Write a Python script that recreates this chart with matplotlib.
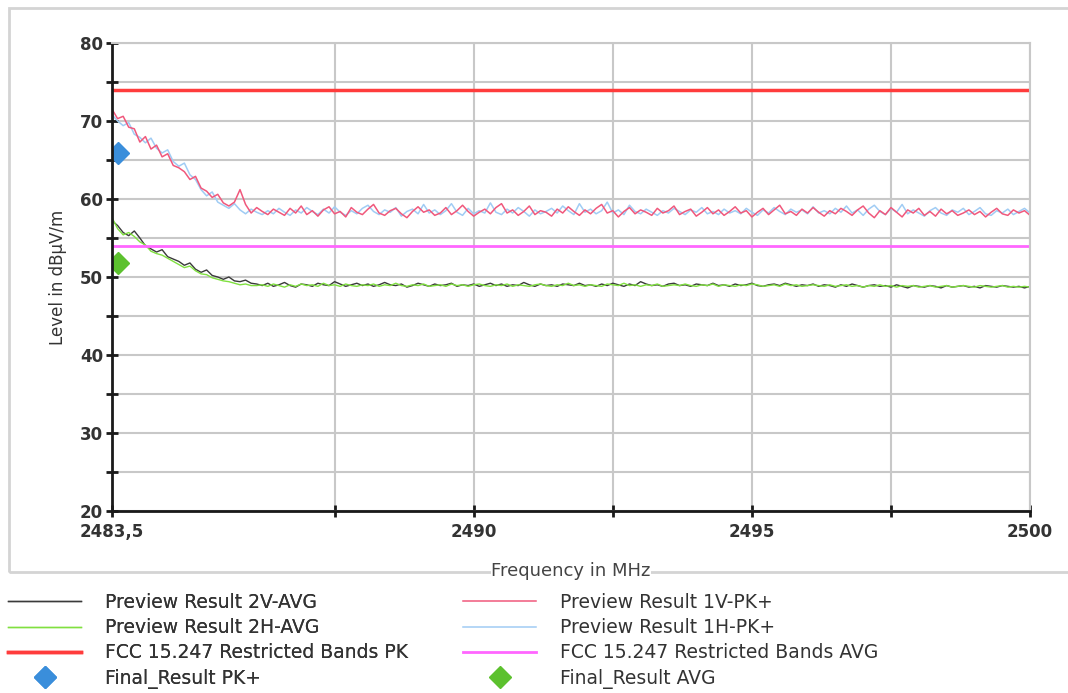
import numpy as np
import matplotlib.pyplot as plt
from matplotlib.patches import Rectangle

plt.rcParams['font.family'] = ['DejaVu Sans']

# Sweep range (MHz)
f_start = 2483.5
f_stop = 2500.0

# Preview Result 1V-PK+ (dBuV/m)
pk_1v = [
    71.5, 70.3, 70.6, 69.2, 69.0, 67.3, 68.0, 66.4, 66.9, 65.4, 65.8, 64.3, 64.0, 63.5,
    62.5, 62.9, 61.4, 61.0, 60.2, 60.6, 59.5, 59.1, 59.6, 61.2, 59.3, 58.2, 58.9, 58.4,
    58.0, 58.7, 58.3, 57.9, 58.8, 58.2, 59.1, 58.0, 58.5, 57.8, 58.6, 59.0, 58.1, 58.4, 57.7, 58.9, 58.3, 58.0, 58.7, 59.3,
    58.2, 57.9, 58.5, 58.8, 58.1, 57.6, 58.4, 59.0, 58.3, 58.6, 57.9, 58.2, 58.9, 58.0, 58.5, 59.2, 58.4, 57.8, 58.3, 58.7,
    58.1, 58.9, 59.4, 58.2, 58.6, 57.9, 58.4, 59.1, 58.0, 58.5, 58.3, 57.8, 58.7, 58.2, 59.0, 58.4, 57.9, 58.6, 58.1, 58.8,
    59.3, 58.2, 58.5, 57.7, 58.4, 58.9, 58.1, 58.6, 58.3, 57.9, 58.8, 58.2, 58.5, 59.1, 58.0, 58.4, 58.7, 57.8, 58.3, 58.9,
    58.1, 58.6, 57.9, 58.4, 59.0, 58.2, 58.5, 57.7, 58.3, 58.8, 58.0, 58.6, 59.2, 58.1, 58.4, 57.9, 58.7, 58.2, 58.9, 58.3,
    57.8, 58.5, 58.1, 58.8, 58.4, 57.9, 58.6, 59.1, 58.2, 57.6, 58.5, 58.0, 58.9, 58.3, 57.7, 58.6, 58.2, 58.8, 57.9, 58.4,
    57.8, 58.7, 58.1, 58.5, 57.9, 58.2, 58.6, 58.0, 58.4, 57.7, 58.3, 58.8, 58.1, 57.9, 58.6, 58.2, 58.5, 57.9,
]

# Preview Result 1H-PK+ (dBuV/m)
pk_1h = [
    70.8, 70.0, 69.4, 69.8, 68.3, 67.9, 67.2, 67.8, 66.5, 65.9, 66.3, 64.8, 64.2, 64.6,
    63.1, 62.5, 61.2, 60.4, 60.9, 59.6, 59.2, 58.8, 59.4, 58.6, 58.1, 58.7, 58.3, 58.0,
    58.5, 58.1, 58.8, 58.3, 57.9, 58.6, 58.2, 58.9, 58.4, 58.0, 58.7, 58.2, 59.0, 58.3, 57.9, 58.5, 58.1, 58.8, 59.2, 58.4,
    58.0, 58.6, 58.3, 58.9, 57.8, 58.4, 58.7, 58.1, 59.3, 58.2, 58.6, 58.0, 58.5, 59.4, 58.3, 57.9, 58.8, 58.1, 58.5, 58.2,
    59.5, 58.3, 58.0, 58.7, 58.2, 58.9, 58.4, 57.8, 58.6, 58.1, 58.4, 58.8, 58.2, 59.1, 58.5, 58.0, 59.4, 58.3, 58.7, 58.1,
    58.5, 59.6, 58.2, 58.6, 58.0, 59.2, 58.4, 58.1, 58.7, 58.3, 57.9, 58.5, 58.2, 58.8, 58.4, 58.0, 58.6, 58.3, 58.9, 58.1,
    58.4, 58.0, 58.7, 58.2, 58.5, 58.1, 58.8, 58.3, 57.9, 58.6, 58.2, 58.9, 58.4, 58.0, 58.7, 58.3, 58.6, 58.1, 59.0, 58.2,
    58.5, 58.1, 58.8, 58.3, 59.1, 58.2, 58.6, 57.9, 58.7, 59.2, 58.4, 58.0, 58.8, 58.3, 59.3, 58.1, 58.6, 58.2, 57.8, 58.5,
    58.9, 58.2, 57.9, 58.6, 58.3, 58.8, 58.0, 58.4, 58.9, 58.1, 57.9, 58.5, 58.2, 58.7, 58.0, 58.4, 58.8, 58.2,
]

# Preview Result 2V-AVG (dBuV/m)
avg_2v = [
    57.2, 56.6, 55.7, 55.3, 55.9, 55.0, 54.0, 53.6, 53.2, 53.5, 52.6, 52.3, 52.0,
    51.5, 51.8, 51.0, 50.6, 50.9, 50.2, 50.0, 49.7, 50.0, 49.5, 49.4, 49.6, 49.2,
    49.1, 48.9, 49.2, 48.8, 49.0, 49.3, 48.9, 48.7, 49.1, 49.0, 48.8, 49.2, 49.0, 48.9, 49.4, 49.1, 48.8, 49.0, 49.2, 48.9,
    49.1, 48.8, 49.0, 49.3, 49.0, 48.9, 49.1, 48.7, 48.9, 49.2, 49.0, 48.8, 49.1, 48.9, 49.0, 49.2, 48.8, 49.0, 48.9, 49.1,
    48.8, 49.0, 49.2, 48.9, 49.1, 48.8, 49.0, 48.9, 49.3, 49.0, 48.8, 49.1, 48.9, 49.0, 48.8, 49.1, 49.0, 48.9, 49.2, 48.9,
    49.0, 48.8, 49.1, 48.9, 49.2, 49.0, 48.8, 49.1, 48.9, 49.4, 49.1, 48.9, 49.0, 48.8, 49.1, 49.2, 48.9, 49.0, 48.8, 49.1,
    49.0, 48.9, 49.2, 48.9, 49.0, 48.8, 49.1, 48.9, 49.0, 49.2, 48.9, 48.8, 49.0, 49.1, 48.9, 49.2, 49.0, 48.8, 49.0, 48.9,
    49.1, 48.8, 49.0, 48.9, 48.7, 49.0, 48.8, 49.1, 48.9, 48.7, 48.9, 49.0, 48.8, 48.9, 48.7, 49.0, 48.8, 48.6, 48.9, 48.8,
    48.7, 48.9, 48.8, 48.6, 48.9, 48.7, 48.8, 48.9, 48.7, 48.8, 48.6, 48.9, 48.8, 48.7, 48.9, 48.8, 48.7, 48.8, 48.6, 48.8,
]

# Preview Result 2H-AVG (dBuV/m)
avg_2h = [
    57.6, 56.2, 55.4, 55.7, 55.2, 54.5, 54.1, 53.3, 53.0, 52.8, 52.4, 52.0, 51.6,
    51.2, 51.4, 50.8, 50.4, 50.3, 49.9, 49.7, 49.5, 49.4, 49.2, 49.0, 49.1, 48.9,
    48.9, 49.0, 48.8, 49.1, 48.9, 48.7, 49.0, 48.8, 49.1, 48.9, 49.0, 48.8, 49.2, 48.9, 49.0, 48.8, 49.1, 48.9, 48.8, 49.0,
    48.9, 49.1, 48.8, 49.0, 48.9, 49.2, 48.9, 48.8, 49.0, 48.9, 49.1, 48.8, 48.9, 49.0, 48.8, 49.1, 48.9, 49.0, 48.8, 49.0,
    49.1, 48.9, 48.8, 49.0, 48.9, 49.1, 48.8, 49.0, 48.9, 48.8, 49.0, 49.1, 48.9, 48.8, 49.0, 48.9, 49.2, 48.9, 49.0, 48.8,
    49.0, 48.9, 48.8, 49.1, 49.0, 48.9, 49.2, 48.9, 49.0, 48.8, 49.0, 48.9, 49.1, 48.8, 48.9, 49.0, 48.9, 49.1, 48.9, 48.8,
    49.0, 48.9, 49.1, 48.8, 49.0, 48.9, 48.8, 49.0, 48.9, 49.1, 49.0, 48.8, 48.9, 49.0, 48.8, 49.1, 48.9, 49.0, 48.8, 48.9,
    49.0, 48.9, 48.8, 49.0, 48.8, 48.9, 49.0, 48.8, 48.9, 48.7, 48.9, 48.8, 49.0, 48.8, 48.9, 48.7, 48.9, 48.8, 48.9, 48.7,
    48.8, 48.9, 48.7, 48.8, 48.9, 48.7, 48.8, 48.9, 48.8, 48.7, 48.9, 48.8, 48.7, 48.8, 48.9, 48.7, 48.8, 48.7, 48.8, 48.7,
]

# Limits
limit_pk = 74.0
limit_avg = 54.0

# Final results
final_pk_f = [2483.6]
final_pk_level = [65.9]
final_avg_f = [2483.6]
final_avg_level = [51.8]

# Axis ticks
x_major = [2483.5, 2490, 2495, 2500]
x_major_labels = ["2483,5", "2490", "2495", "2500"]
x_minor = [2487.5, 2492.5, 2497.5]
y_major = [20, 30, 40, 50, 60, 70, 80]
y_minor = [25, 35, 45, 55, 65, 75]


def freq_axis(values):
    return np.linspace(f_start, f_stop, len(values))


fig = plt.figure(figsize=(10.68, 6.93), dpi=100)
ax = fig.add_axes([0.1049, 0.2626, 0.8596, 0.6754])

grid_col = "#c8c8c8"
text_col = "#333333"

h_2v, = ax.plot(freq_axis(avg_2v), avg_2v, color="#3a3a3a", lw=1.0, label="Preview Result 2V-AVG")
h_2h, = ax.plot(freq_axis(avg_2h), avg_2h, color="#80e040", lw=1.0, label="Preview Result 2H-AVG")
h_1h, = ax.plot(freq_axis(pk_1h), pk_1h, color="#a0ccf4", lw=1.1, label="Preview Result 1H-PK+")
h_1v, = ax.plot(freq_axis(pk_1v), pk_1v, color="#f0587c", lw=1.1, label="Preview Result 1V-PK+")
h_lpk = ax.axhline(limit_pk, color="#ff3c3c", lw=2.5, label="FCC 15.247 Restricted Bands PK")
h_lavg = ax.axhline(limit_avg, color="#ff66ff", lw=2.0, label="FCC 15.247 Restricted Bands AVG")
h_fpk, = ax.plot(final_pk_f, final_pk_level, "D", color="#3a8edb", ms=11, ls="none",
                 label="Final_Result PK+")
h_favg, = ax.plot(final_avg_f, final_avg_level, "D", color="#5cc12e", ms=11, ls="none",
                  label="Final_Result AVG")

ax.set_xlim(f_start, f_stop)
ax.set_ylim(20, 80)
ax.set_xticks(x_major)
ax.set_xticklabels(x_major_labels)
ax.set_xticks(x_minor, minor=True)
ax.set_yticks(y_major)
ax.set_yticks(y_minor, minor=True)

ax.grid(True, which="both", color=grid_col, lw=1.5, zorder=0)
ax.set_axisbelow(True)

for side in ["top", "right"]:
    ax.spines[side].set_color(grid_col)
    ax.spines[side].set_linewidth(1.5)
for side in ["left", "bottom"]:
    ax.spines[side].set_color("#1a1a1a")
    ax.spines[side].set_linewidth(2.0)

ax.tick_params(which="both", direction="inout", length=9, width=2, color="#1a1a1a")
ax.tick_params(axis="both", which="major", labelsize=12, labelcolor=text_col)
ax.tick_params(axis="x", which="major", pad=4)
ax.tick_params(axis="y", which="major", pad=2)
for lab in ax.get_xticklabels() + ax.get_yticklabels():
    lab.set_fontweight("bold")

ax.set_ylabel("Level in dBµV/m", fontsize=12, color=text_col, labelpad=9)
ax.set_xlabel("Frequency in MHz", fontsize=13, color="#444444", labelpad=15,
              bbox=dict(facecolor="white", edgecolor="none", pad=0))

# outer chart frame, drawn behind the axes and its labels
fig.patches.append(Rectangle((9 / 1068, 1 - 572 / 693), 1.2, 564 / 693,
                             transform=fig.transFigure, fill=False,
                             edgecolor="#d4d4d4", lw=2, zorder=-1))

# legend: two columns placed separately
leg_kw = dict(loc="upper left", frameon=False, fontsize=13.5, handlelength=3.9,
              handletextpad=1.25, labelspacing=0.33, borderpad=0, borderaxespad=0,
              labelcolor=text_col)
col1 = [h_2v, h_2h, h_lpk, h_fpk]
col2 = [h_1v, h_1h, h_lavg, h_favg]
leg1 = fig.legend(handles=col1, labels=[h.get_label() for h in col1],
                  bbox_to_anchor=(8 / 1068, 1 - 593 / 693), **leg_kw)
fig.legend(handles=col2, labels=[h.get_label() for h in col2],
           bbox_to_anchor=(463 / 1068, 1 - 593 / 693), **leg_kw)
fig.add_artist(leg1)

fig.savefig("out.png", dpi=100)
